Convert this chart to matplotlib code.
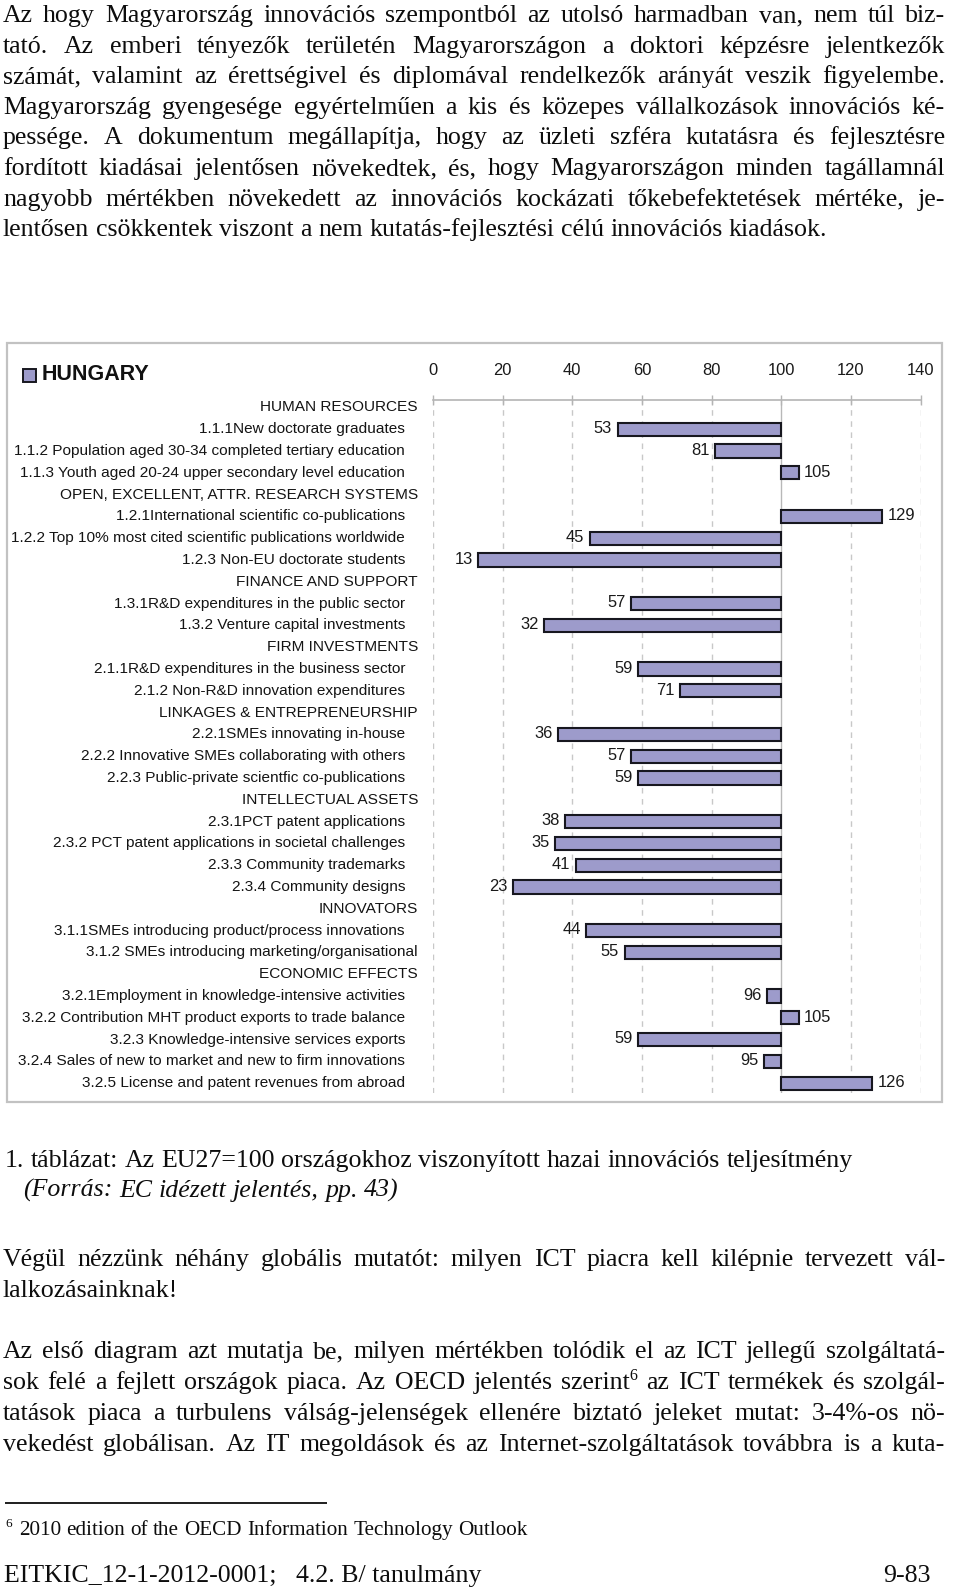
import matplotlib
matplotlib.use("Agg")
import matplotlib.pyplot as plt
from matplotlib import font_manager as fm
from matplotlib import transforms as mtrans
from matplotlib.patches import Rectangle

# ---------------- data ----------------
row_labels = [
    "HUMAN RESOURCES",
    "1.1.1New doctorate graduates",
    "1.1.2 Population aged 30-34 completed tertiary education",
    "1.1.3 Youth aged 20-24 upper secondary level education",
    "OPEN, EXCELLENT, ATTR. RESEARCH SYSTEMS",
    "1.2.1International scientific co-publications",
    "1.2.2 Top 10% most cited scientific publications worldwide",
    "1.2.3 Non-EU doctorate students",
    "FINANCE AND SUPPORT",
    "1.3.1R&D expenditures in the public sector",
    "1.3.2 Venture capital investments",
    "FIRM INVESTMENTS",
    "2.1.1R&D expenditures in the business sector",
    "2.1.2 Non-R&D innovation expenditures",
    "LINKAGES & ENTREPRENEURSHIP",
    "2.2.1SMEs innovating in-house",
    "2.2.2 Innovative SMEs collaborating with others",
    "2.2.3 Public-private scientfic co-publications",
    "INTELLECTUAL ASSETS",
    "2.3.1PCT patent applications",
    "2.3.2 PCT patent applications in societal challenges",
    "2.3.3 Community trademarks",
    "2.3.4 Community designs",
    "INNOVATORS",
    "3.1.1SMEs introducing product/process innovations",
    "3.1.2 SMEs introducing marketing/organisational",
    "ECONOMIC EFFECTS",
    "3.2.1Employment in knowledge-intensive activities",
    "3.2.2 Contribution MHT product exports to trade balance",
    "3.2.3 Knowledge-intensive services exports",
    "3.2.4 Sales of new to market and new to firm innovations",
    "3.2.5 License and patent revenues from abroad",
]
scores = [None, 53, 81, 105,
          None, 129, 45, 13,
          None, 57, 32,
          None, 59, 71,
          None, 36, 57, 59,
          None, 38, 35, 41, 23,
          None, 44, 55,
          None, 96, 105, 59, 95, 126]
eu_reference = 100
x_ticks = [0, 20, 40, 60, 80, 100, 120, 140]
country = "HUNGARY"

para1 = [
    "Az hogy Magyarország innovációs szempontból az utolsó harmadban van, nem túl biz-",
    "tató. Az emberi tényezők területén Magyarországon a doktori képzésre jelentkezők",
    "számát, valamint az érettségivel és diplomával rendelkezők arányát veszik figyelembe.",
    "Magyarország gyengesége egyértelműen a kis és közepes vállalkozások innovációs ké-",
    "pessége. A dokumentum megállapítja, hogy az üzleti szféra kutatásra és fejlesztésre",
    "fordított kiadásai jelentősen növekedtek, és, hogy Magyarországon minden tagállamnál",
    "nagyobb mértékben növekedett az innovációs kockázati tőkebefektetések mértéke, je-",
    "lentősen csökkentek viszont a nem kutatás-fejlesztési célú innovációs kiadások.",
]
caption1 = "1. táblázat: Az EU27=100 országokhoz viszonyított hazai innovációs teljesítmény"
caption2 = "(Forrás: EC idézett jelentés, pp. 43)"
para2 = [
    "Végül nézzünk néhány globális mutatót: milyen ICT piacra kell kilépnie tervezett vál-",
    "lalkozásainknak!",
]
para3 = [
    "Az első diagram azt mutatja be, milyen mértékben tolódik el az ICT jellegű szolgáltatá-",
    "sok felé a fejlett országok piaca. Az OECD jelentés szerint^6 az ICT termékek és szolgál-",
    "tatások piaca a turbulens válság-jelenségek ellenére biztató jeleket mutat: 3-4%-os nö-",
    "vekedést globálisan. Az IT megoldások és az Internet-szolgáltatások továbbra is a kuta-",
]
footnote = "^6 2010 edition of the OECD Information Technology Outlook"
footer_left = "EITKIC_12-1-2012-0001;   4.2. B/ tanulmány"
footer_right = "9-83"

# ---------------- setup ----------------
W, H = 960, 1591
fig = plt.figure(figsize=(W / 100, H / 100), dpi=100)
fig.patch.set_facecolor("white")
page = fig.add_axes([0, 0, 1, 1])
page.set_xlim(0, W)
page.set_ylim(H, 0)
page.axis("off")
renderer = fig.canvas.get_renderer()


def has_font(name):
    try:
        fm.findfont(fm.FontProperties(family=name), fallback_to_default=False)
        return True
    except Exception:
        return False


SERIF = "Liberation Serif"
SANS = "Liberation Sans Narrow" if has_font("Liberation Sans Narrow") else "Liberation Sans"
TXT = "#0d0d0d"


def tw(s, size, **kw):
    t = page.text(0, 0, s, fontsize=size, **kw)
    w = t.get_window_extent(renderer).width
    t.remove()
    return w


def space_w(size, style="normal"):
    return tw("a a", size, family=SERIF, style=style) - tw("aa", size, family=SERIF, style=style)


def token_width(tok, size, style="normal"):
    if "^" in tok:
        base, sup = tok.split("^")
        wb = tw(base, size, family=SERIF, style=style) if base else 0
        return wb + tw(sup, size * 0.62, family=SERIF) + (2 if not base else 0)
    return tw(tok, size, family=SERIF, style=style)


def draw_token(x, y, tok, size, style="normal"):
    if "^" in tok:
        base, sup = tok.split("^")
        wb = 0
        if base:
            page.text(x, y, base, fontsize=size, family=SERIF, style=style,
                      ha="left", va="baseline", color=TXT)
            wb = tw(base, size, family=SERIF, style=style)
        page.text(x + wb, y - size * 100 / 72 * 0.36, sup, fontsize=size * 0.62,
                  family=SERIF, ha="left", va="baseline", color=TXT)
    else:
        page.text(x, y, tok, fontsize=size, family=SERIF, style=style,
                  ha="left", va="baseline", color=TXT)


def draw_line(text, x0, x1, y, size, justify, style="normal"):
    words = text.split(" ")
    ws = [token_width(w, size, style) for w in words]
    if justify and len(words) > 1:
        gap = (x1 - x0 - sum(ws)) / (len(words) - 1)
    else:
        gap = space_w(size, style)
    x = x0
    for w, wd in zip(words, ws):
        draw_token(x, y, w, size, style)
        x += wd + gap


# choose body font size so that justified lines fit
X0, X1 = 3, 945
base = 18.6
ratios = []
for line in para1[:-1] + para2[:1] + para3:
    words = line.split(" ")
    nat = sum(token_width(w, base) for w in words) + (len(words) - 1) * space_w(base) * 0.4
    ratios.append((X1 - X0) / nat)
body = base * min(1.0, min(ratios))

# ---------------- body text ----------------
for i, line in enumerate(para1):
    draw_line(line, X0, X1, 22 + 30.6 * i, body, justify=(i < len(para1) - 1))

draw_line(caption1, 5, 889, 1167, body, justify=False)
draw_line(caption2, 23, 413, 1197, body, justify=False, style="italic")

draw_line(para2[0], X0, X1, 1266, body, justify=True)
draw_line(para2[1], X0, X1, 1297, body, justify=False)

for i, line in enumerate(para3):
    draw_line(line, X0, X1, 1358 + 31 * i, body, justify=True)

page.plot([5, 327], [1503, 1503], color=TXT, lw=1.3, solid_capstyle="butt")
fn_size = body * 0.82
draw_line(footnote, 5, 560, 1535, fn_size, justify=False)

page.text(4, 1582, footer_left, fontsize=body, family=SERIF, ha="left", va="baseline", color=TXT)
page.text(931, 1582, footer_right, fontsize=body, family=SERIF, ha="right", va="baseline", color=TXT)

# ---------------- chart frame & legend ----------------
page.add_patch(Rectangle((6.5, 343), 935, 759, fill=False, edgecolor="#c2c2c2", lw=1.6))

BAR_FACE = "#9d9bcb"
BAR_EDGE = "#17171f"
page.add_patch(Rectangle((23, 368.5), 12.5, 13, facecolor=BAR_FACE, edgecolor=BAR_EDGE, lw=1.4))
hs = 15.5
wh = tw(country, hs, family=SANS, weight="bold")
hs = min(hs, hs * 112 / wh)
page.text(41.5, 374.5, country, fontsize=hs, family=SANS, weight="bold",
          ha="left", va="center", color="#111111")

# ---------------- chart axes ----------------
ax_top, ax_bot = 400, 1093
x0px, x140px = 433, 920.5
ax = fig.add_axes([x0px / W, 1 - ax_bot / H, (x140px - x0px) / W, (ax_bot - ax_top) / H])
ax.patch.set_visible(False)
row0, rstep = 407.4, 21.8
ax.set_xlim(x_ticks[0], x_ticks[-1])
ax.set_ylim((ax_bot - row0) / rstep, (ax_top - row0) / rstep)
for s in ["left", "right", "bottom"]:
    ax.spines[s].set_visible(False)
ax.spines["top"].set_color("#b4b4b4")
ax.spines["top"].set_linewidth(1.2)
ax.set_yticks([])
ax.xaxis.tick_top()
ax.set_xticks(x_ticks)

# label font size
longest = max((l for l in row_labels), key=lambda s: tw(s, 10, family=SANS))
lab_size = min(11.7, 10 * 394 / tw(longest, 10, family=SANS))
num_size = lab_size * 1.08

ax.tick_params(axis="x", direction="inout", length=7, width=1, color="#b4b4b4",
               pad=12.5, labelsize=num_size, labelcolor="#1a1a1a")
for t in ax.get_xticklabels():
    t.set_family(SANS)

for xv in x_ticks:
    if xv == eu_reference:
        ax.axvline(xv, color="#b8b8b8", lw=1.0, zorder=1)
    else:
        ax.axvline(xv, color="#c8c8c8", lw=1.0, linestyle=(0, (4, 4)), zorder=1)

idx = [i for i, v in enumerate(scores) if v is not None]
vals = [scores[i] for i in idx]
ax.barh(idx, [v - eu_reference for v in vals], left=eu_reference, height=0.61,
        color=BAR_FACE, edgecolor=BAR_EDGE, linewidth=1.5, zorder=3)

for i, v in zip(idx, vals):
    if v < eu_reference:
        ax.annotate(str(v), (v, i), xytext=(-4, 0.5), textcoords="offset points",
                    ha="right", va="center", fontsize=num_size, family=SANS, color="#1a1a1a")
    else:
        ax.annotate(str(v), (v, i), xytext=(4, 0.5), textcoords="offset points",
                    ha="left", va="center", fontsize=num_size, family=SANS, color="#1a1a1a")

lab_tr = mtrans.blended_transform_factory(page.transData, ax.transData)
for i, (lab, v) in enumerate(zip(row_labels, scores)):
    header = v is None
    right = 418 if (header or lab.startswith("3.1.2")) else 405
    ax.text(right, i, lab, transform=lab_tr, ha="right", va="center",
            fontsize=lab_size, family=SANS, color="#141414", clip_on=False)

fig.savefig("out.png", dpi=100, facecolor="white")
